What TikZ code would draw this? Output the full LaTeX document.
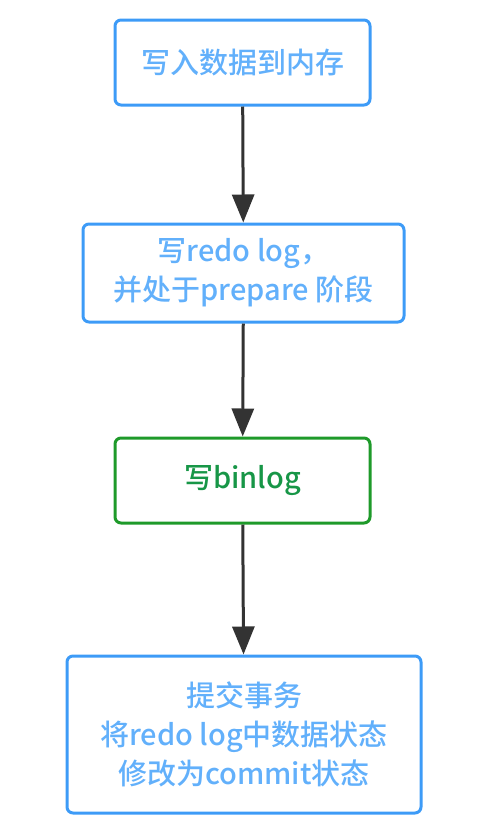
\documentclass[tikz,border=0pt]{standalone}
\usepackage{fontspec}
\setmainfont{Noto Sans CJK SC}[UprightFont=* Medium]
\usetikzlibrary{arrows.meta}
\definecolor{boxblue}{HTML}{3D9BF7}
\definecolor{txtblue}{HTML}{62B0FB}
\definecolor{boxgreen}{HTML}{1E9A2A}
\definecolor{txtgreen}{HTML}{179647}
\definecolor{arrgray}{HTML}{333333}
\tikzset{
	bbox/.style 2 args={draw=boxblue,line width=3pt,rounded corners=6pt,text=txtblue,align=center,
		font=\fontsize{29}{39}\selectfont,inner sep=0pt,minimum width=#1,minimum height=#2},
	gbox/.style 2 args={bbox={#1}{#2},draw=boxgreen,text=txtgreen},
	flow/.style={draw=arrgray,line width=3pt,-{Triangle[length=28pt,width=22pt]}}
}

\begin{document}
\begin{tikzpicture}[x=1pt,y=-1pt]
	\useasboundingbox (0,0) rectangle (488,828);
	\node [bbox={255pt}{85pt}] (mem) at (242.5,62.5) {写入数据到内存};
	\node [bbox={321pt}{98pt}] (redo) at (243.5,273) {写redo log，\\并处于prepare 阶段};
	\node [gbox={255pt}{85pt}] (binlog) at (242.5,480.5) {写binlog};
	\node [bbox={354pt}{157pt}] (commit) at (244,734.5) {提交事务\\将redo log中数据状态\\修改为commit状态};

	\draw [flow] (mem) -- (redo);
	\draw [flow] (redo) -- (binlog);
	\draw [flow] (binlog) -- (commit);
\end{tikzpicture}
\end{document}
